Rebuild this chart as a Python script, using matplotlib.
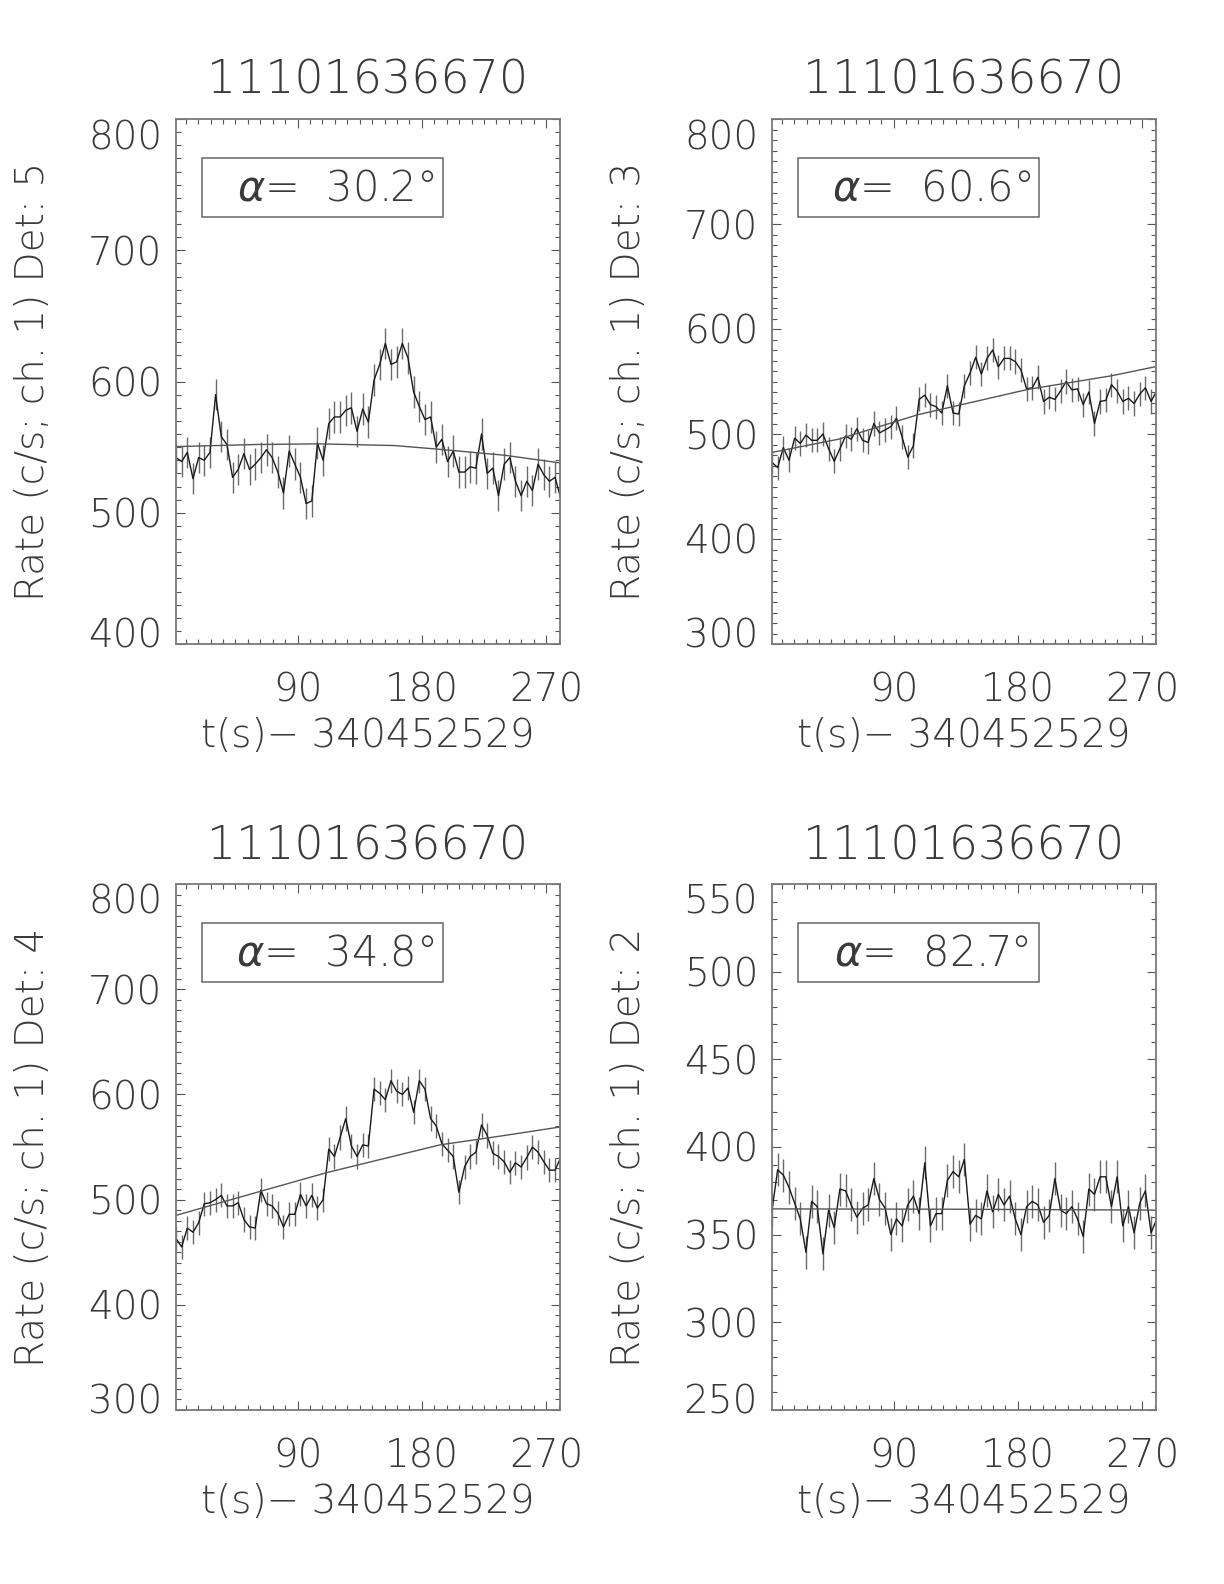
import numpy as np
import matplotlib
matplotlib.use('Agg')
import matplotlib.pyplot as plt
from matplotlib.patches import Rectangle
from matplotlib.ticker import MultipleLocator, FixedLocator
from matplotlib.transforms import ScaledTranslation

plt.rcParams['font.family'] = ['DejaVu Sans']
plt.rcParams['font.weight'] = 'light'
plt.rcParams['axes.titleweight'] = 'light'
plt.rcParams['axes.labelweight'] = 'light'
plt.rcParams['mathtext.fontset'] = 'custom'
plt.rcParams['mathtext.it'] = 'DejaVu Sans:italic:light'
plt.rcParams['mathtext.rm'] = 'DejaVu Sans:light'

TITLE = '11101636670'
XLABEL = 't(s)\u2212 340452529'
T0 = 2.0          # first bin (s after trigger)
BIN = 4.096       # bin width (s)
XMIN, XMAX = 2, 280
XTICKS = [90, 180, 270]

# detector 5
rate_d5 = [542, 539, 546, 526, 542, 540, 546, 590, 558, 552, 527, 533, 545, 533, 537,
           542, 548, 542, 531, 515, 547, 537, 527, 507, 509, 553, 540, 568, 573, 573,
           578, 580, 562, 579, 569, 601, 613, 629, 613, 615, 629, 618, 592, 581, 571,
           573, 550, 556, 539, 547, 531, 531, 535, 534, 560, 530, 534, 513, 537, 542,
           524, 513, 524, 517, 537, 529, 524, 527, 511]
err_d5 = 12.0
fit_t_d5 = [2, 60, 105, 160, 190, 240, 280]
fit_d5 = [550.4, 552, 552.5, 551.2, 548.6, 543.8, 538]

# detector 3
rate_d3 = [473, 468, 487, 475, 496, 491, 499, 494, 494, 500, 486, 474, 486, 498, 495,
           505, 494, 492, 510, 501, 504, 507, 515, 497, 478, 489, 533, 537, 528, 526,
           520, 546, 520, 519, 546, 558, 573, 557, 572, 580, 564, 572, 572, 569, 561,
           543, 544, 554, 531, 535, 533, 541, 550, 542, 543, 528, 540, 510, 531, 532,
           547, 541, 531, 534, 529, 538, 544, 531, 541]
err_d3 = 11.5
fit_t_d3 = [2, 50, 108, 187, 248, 280]
fit_d3 = [482.5, 495, 518.5, 542.4, 555.5, 564.2]

# detector 4
rate_d4 = [463, 455, 473, 469, 478, 496, 497, 500, 504, 494, 494, 497, 481, 474, 473,
           509, 496, 494, 487, 474, 486, 486, 505, 494, 504, 492, 500, 548, 541, 559,
           577, 551, 541, 552, 551, 605, 601, 595, 613, 603, 600, 606, 583, 613, 605,
           577, 570, 553, 547, 541, 507, 531, 541, 545, 571, 561, 544, 541, 536, 526,
           535, 531, 540, 550, 545, 536, 528, 528, 540]
err_d4 = 11.5
fit_t_d4 = [2, 50, 111, 193, 240, 280]
fit_d4 = [485, 503, 525.6, 552, 561, 569]

# detector 2
rate_d2 = [364, 387, 384, 377, 368, 359, 340, 369, 366, 339, 364, 354, 376, 375, 367,
           360, 365, 367, 382, 370, 365, 350, 359, 355, 367, 372, 362, 391, 355, 362,
           362, 381, 386, 383, 393, 356, 361, 359, 375, 363, 373, 367, 372, 359, 350,
           366, 369, 367, 357, 361, 382, 364, 362, 366, 359, 349, 376, 373, 383, 383,
           366, 383, 355, 366, 351, 368, 375, 351, 359]
err_d2 = 9.4
fit_t_d2 = [2, 140, 280]
fit_d2 = [364.7, 364.5, 364]

PANELS = [
    (rate_d5, err_d5, fit_t_d5, fit_d5, (400, 800), 100, 5, '30.2'),
    (rate_d3, err_d3, fit_t_d3, fit_d3, (300, 800), 100, 3, '60.6'),
    (rate_d4, err_d4, fit_t_d4, fit_d4, (300, 800), 100, 4, '34.8'),
    (rate_d2, err_d2, fit_t_d2, fit_d2, (250, 550), 50, 2, '82.7'),
]

# axes boxes in figure fraction (left, bottom, width, height)
W, H = 1224, 1584
BOXES = [
    (176 / W, 1 - 644 / H, 384 / W, 525 / H),
    (772 / W, 1 - 644 / H, 384 / W, 525 / H),
    (176 / W, 1 - 1410 / H, 384 / W, 526 / H),
    (772 / W, 1 - 1410 / H, 384 / W, 526 / H),
]

TXT = '#3a3a3a'
FS = 28


def draw_panel(fig, box, rate, err, fit_t, fit_v, ylim, ymajor, det, alpha):
    ax = fig.add_axes(box)
    rate = np.asarray(rate, dtype=float)
    t = T0 + BIN * np.arange(len(rate))
    ax.errorbar(t, rate, yerr=err, fmt='none', ecolor='#6a6a6a',
                elinewidth=1.0, capsize=0)
    ax.plot(t, rate, color='#1a1a1a', lw=1.0)
    ax.plot(fit_t, fit_v, color='#555555', lw=1.0)

    ax.set_xlim(XMIN, XMAX)
    ax.set_ylim(*ylim)
    ax.xaxis.set_major_locator(FixedLocator(XTICKS))
    ax.xaxis.set_minor_locator(MultipleLocator(9))
    ax.yaxis.set_major_locator(MultipleLocator(ymajor))
    ax.yaxis.set_minor_locator(MultipleLocator(10))

    ax.tick_params(which='both', direction='in', top=True, right=True,
                   color='#555555', width=0.8, labelcolor=TXT, labelsize=FS)
    ax.tick_params(which='major', length=6.5)
    ax.tick_params(which='minor', length=3.6)
    ax.tick_params(axis='x', pad=20)
    ax.tick_params(axis='y', pad=10)
    for sp in ax.spines.values():
        sp.set_color('#7a7a7a')
        sp.set_linewidth(1.3)

    # end labels sit inside the axis range, like the original
    yt = ax.get_yticks()
    yt = yt[(yt >= ylim[0]) & (yt <= ylim[1])]
    ax.set_yticks(yt)
    ticks = ax.yaxis.get_major_ticks()
    ticks[0].label1.set_transform(ticks[0].label1.get_transform()
                                  + ScaledTranslation(0, 0.12, fig.dpi_scale_trans))
    ticks[-1].label1.set_transform(ticks[-1].label1.get_transform()
                                   + ScaledTranslation(0, -0.15, fig.dpi_scale_trans))

    ax.set_title(TITLE, fontsize=33, pad=18, color=TXT, fontweight='light')
    ax.set_xlabel(XLABEL, fontsize=FS, color=TXT, labelpad=5, fontweight='light')
    ax.text(-0.373, 0.5, 'Rate (c/s; ch. 1) Det: %d' % det, rotation=90,
            ha='center', va='center', fontsize=FS, color=TXT,
            fontweight='light', transform=ax.transAxes)

    ax.add_patch(Rectangle((0.068, 0.813), 0.627, 0.113, transform=ax.transAxes,
                           fill=False, edgecolor='#666666', lw=1.1))
    ax.text(0.415, 0.8695, '$\\alpha$=  ' + alpha + '\u00b0', ha='center', va='center',
            fontsize=30, color=TXT, fontweight='light', transform=ax.transAxes)
    return ax


fig = plt.figure(figsize=(12.24, 15.84), dpi=100)
for box, p in zip(BOXES, PANELS):
    draw_panel(fig, box, *p)

fig.savefig('out.png', dpi=100, facecolor='white')
